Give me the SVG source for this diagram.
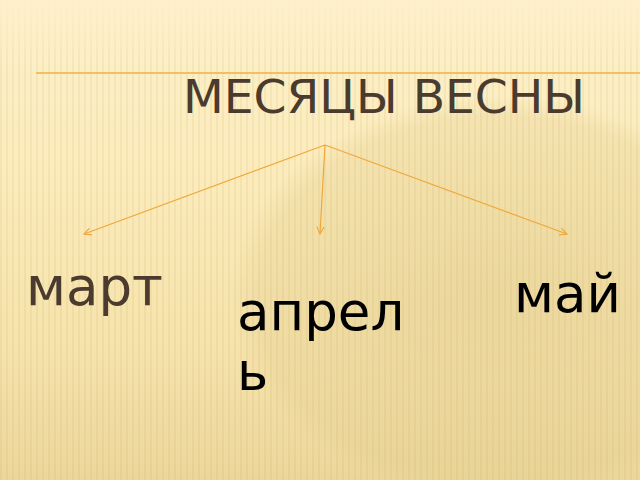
<svg xmlns="http://www.w3.org/2000/svg" width="640" height="480" viewBox="0 0 640 480">
<defs>
<linearGradient id="bg" x1="0" y1="0" x2="0" y2="1">
<stop offset="0" stop-color="#fdf0cb"/>
<stop offset="0.35" stop-color="#fcecbd"/>
<stop offset="0.75" stop-color="#f5e2ab"/>
<stop offset="1" stop-color="#ecd79b"/>
</linearGradient>
<radialGradient id="glow" cx="0.78" cy="0.62" r="0.42">
<stop offset="0" stop-color="#e2cd8e" stop-opacity="0.55"/>
<stop offset="0.9" stop-color="#e2cd8e" stop-opacity="0.3"/>
<stop offset="1" stop-color="#e2cd8e" stop-opacity="0"/>
</radialGradient>
<pattern id="stripes" width="6" height="480" patternUnits="userSpaceOnUse">
<rect x="0" y="0" width="2" height="480" fill="#c8a850" opacity="0.12"/>
</pattern>
<linearGradient id="fade" x1="0" y1="0" x2="0" y2="1">
<stop offset="0" stop-color="#fff" stop-opacity="0"/>
<stop offset="0.15" stop-color="#fff" stop-opacity="1"/>
<stop offset="1" stop-color="#fff" stop-opacity="1"/>
</linearGradient>
<mask id="m"><rect width="640" height="480" fill="url(#fade)"/></mask>
<marker id="arr" viewBox="0 0 10 10" refX="9" refY="5" markerWidth="9" markerHeight="9" orient="auto" markerUnits="userSpaceOnUse">
<path d="M1,1 L9,5 L1,9" fill="none" stroke="#f0a838" stroke-width="1.3"/>
</marker>
<style>
.conn{stroke:#f0a838;stroke-width:1.2;fill:none;marker-end:url(#arr)}
.lbl{font-family:"DejaVu Sans","Liberation Sans",sans-serif;font-size:53px}
</style>
</defs>
<rect width="640" height="480" fill="url(#bg)"/>
<rect width="640" height="480" fill="url(#glow)"/>
<rect width="640" height="480" fill="url(#stripes)" mask="url(#m)"/>
<line x1="36" y1="73" x2="640" y2="73" stroke="#f0b040" stroke-width="1.5"/>
<g id="title">
<text x="183" y="113" font-family="DejaVu Sans, Liberation Sans, sans-serif" font-size="47" fill="#4a3b2e" textLength="402" lengthAdjust="spacingAndGlyphs">МЕСЯЦЫ ВЕСНЫ</text>
</g>
<g id="connectors">
<line class="conn" x1="325" y1="145" x2="84" y2="234"/>
<line class="conn" x1="325" y1="145" x2="320" y2="234"/>
<line class="conn" x1="325" y1="145" x2="567" y2="234"/>
</g>
<g id="mart"><text class="lbl" x="26" y="305" fill="#4a3b2e">март</text></g>
<g id="aprel"><text class="lbl" x="237" y="330" fill="#000">апрел</text><text class="lbl" x="237" y="390" fill="#000">ь</text></g>
<g id="mai"><text class="lbl" x="514" y="312" fill="#000">май</text></g>
</svg>
